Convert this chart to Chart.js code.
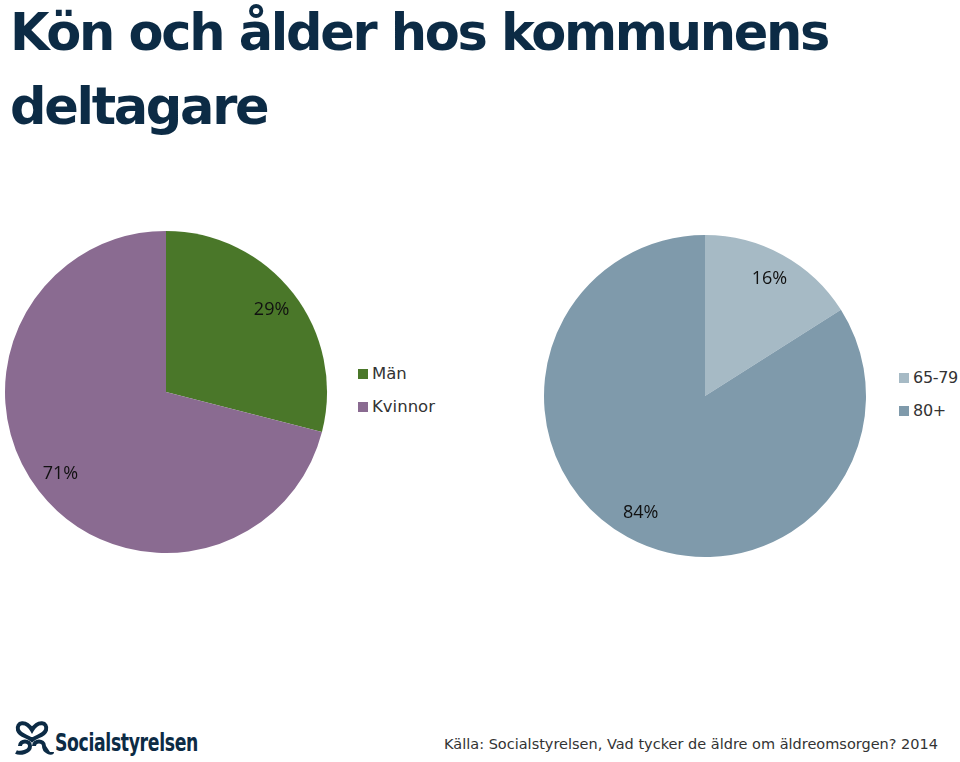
<!DOCTYPE html>
<html>
<head>
<meta charset="utf-8">
<script src="https://cdn.jsdelivr.net/npm/chart.js@4"></script>
<style>
  html, body { margin: 0; padding: 0; background: #fff; }
  body { width: 960px; height: 762px; position: relative; overflow: hidden; font-family: "DejaVu Sans", sans-serif; }
  #title { position: absolute; left: 10px; top: -4px; margin: 0; font-family: "DejaVu Sans", sans-serif; font-weight: bold; font-size: 51px; line-height: 74px; color: #0c2b45; letter-spacing: -2.3px; white-space: nowrap; }
  canvas { position: absolute; }
  .legend { position: absolute; font-size: 16.5px; color: #333; white-space: nowrap; }
  .legend div { height: 33px; display: flex; align-items: center; }
  .legend span.box { display: inline-block; width: 10px; height: 10px; margin-right: 4px; }
  #legendAge { font-size: 16px; letter-spacing: -0.3px; }
  #source { position: absolute; right: 22px; top: 736px; font-size: 14.5px; color: #333; white-space: nowrap; }
  #logo { position: absolute; left: 12px; top: 716px; }
  #logotext { position: absolute; left: 55px; top: 728px; font-family: "DejaVu Sans", sans-serif; font-weight: bold; font-size: 25px; color: #0c2b45; letter-spacing: -0.5px; transform: scaleX(0.69); transform-origin: left top; }
</style>
</head>
<body>
<h1 id="title">Kön och ålder hos kommunens<br>deltagare</h1>

<canvas id="pieGender" width="324" height="324" style="left:4px; top:230px;"></canvas>
<div class="legend" id="legendGender" style="left:358px; top:357px;"></div>

<canvas id="pieAge" width="324" height="324" style="left:543px; top:234px;"></canvas>
<div class="legend" id="legendAge" style="left:899px; top:361px;"></div>

<svg id="logo" width="42" height="42" viewBox="0 0 42 42">
  <g fill="none" stroke="#0c2b45" stroke-width="4">
    <path d="M20 14 C14 4, 4 6, 6 14 C8 20, 16 20, 20 24 C24 20, 32 20, 34 14 C36 6, 26 4, 20 14 Z"/>
    <path d="M8 30 C8 24, 18 24, 18 30 C18 36, 8 38, 4 36"/>
    <path d="M22 30 C22 24, 32 24, 32 30 C32 36, 40 38, 40 36"/>
  </g>
</svg>
<div id="logotext">Socialstyrelsen</div>
<div id="source">Källa: Socialstyrelsen, Vad tycker de äldre om äldreomsorgen? 2014</div>

<script>
// Kön
const genderLabels = ['Män', 'Kvinnor'];
const genderValues = [29, 71];
const genderColors = ['#4a7729', '#8a6b91'];

// Ålder
const ageLabels = ['65-79', '80+'];
const ageValues = [16, 84];
const ageColors = ['#a6bac5', '#7f9aab'];

// draws the percent text inside each slice
const sliceLabels = {
  id: 'sliceLabels',
  afterDatasetsDraw(chart) {
    const ctx = chart.ctx;
    const meta = chart.getDatasetMeta(0);
    const data = chart.data.datasets[0].data;
    ctx.save();
    ctx.font = '18px "Open Sans", sans-serif';
    ctx.fillStyle = '#111';
    ctx.textAlign = 'center';
    ctx.textBaseline = 'middle';
    meta.data.forEach((arc, i) => {
      const mid = (arc.startAngle + arc.endAngle) / 2;
      const r = arc.outerRadius * 0.83;
      ctx.fillText(data[i] + '%', arc.x + Math.cos(mid) * r, arc.y + Math.sin(mid) * r);
    });
    ctx.restore();
  }
};

function makePie(id, labels, values, colors) {
  return new Chart(document.getElementById(id), {
    type: 'pie',
    data: {
      labels: labels,
      datasets: [{
        data: values,
        backgroundColor: colors,
        borderWidth: 0,
        hoverOffset: 0
      }]
    },
    options: {
      responsive: false,
      animation: false,
      radius: 161,
      plugins: {
        legend: { display: false },
        tooltip: { enabled: false }
      }
    },
    plugins: [sliceLabels]
  });
}

function makeLegend(id, labels, colors) {
  const el = document.getElementById(id);
  labels.forEach((l, i) => {
    const row = document.createElement('div');
    row.innerHTML = '<span class="box" style="background:' + colors[i] + '"></span>' + l;
    el.appendChild(row);
  });
}

makePie('pieGender', genderLabels, genderValues, genderColors);
makePie('pieAge', ageLabels, ageValues, ageColors);
makeLegend('legendGender', genderLabels, genderColors);
makeLegend('legendAge', ageLabels, ageColors);
</script>
</body>
</html>
